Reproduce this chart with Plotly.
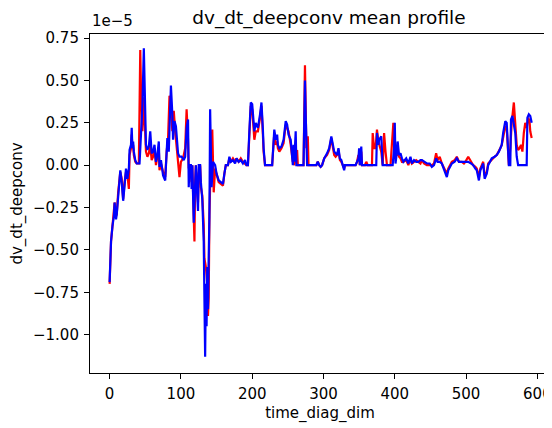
import plotly.graph_objects as go

# values in units of 1e-5
blue_x = [0, 2, 4, 6, 7, 9, 10, 12, 15, 17, 19, 21, 23, 25, 27, 28, 30, 31, 32, 33, 34, 36, 38, 42, 44, 46, 48, 49, 50, 51,
          53, 55, 57, 59, 61, 63, 65, 67, 69, 70, 72, 75, 78, 80, 81, 83, 84, 86, 88, 89, 91, 93, 96, 98, 101, 104, 106,
          108, 110, 111, 112, 114, 115, 116, 118, 119, 121, 122, 124, 125, 127, 128, 130, 132, 133, 134, 135, 136, 137,
          138, 139, 140, 141, 142, 143, 145, 146, 148, 150, 153, 156, 159, 161, 163, 166, 168, 170, 173, 176, 178, 181,
          184, 187, 190, 192, 194, 196, 198, 200, 202, 203, 205, 208, 211, 213, 215, 216, 218, 228, 231, 233, 235, 236,
          238, 241, 244, 247, 249, 251, 254, 256, 257, 258, 259, 261, 262, 272, 274, 275, 277, 290, 292, 294, 296, 298,
          301, 305, 308, 311, 313, 315, 317, 319, 321, 323, 325, 327, 329, 330, 345, 347, 349, 350, 351, 353, 354, 374,
          375, 377, 378, 381, 383, 397, 399, 400, 401, 403, 404, 406, 408, 410, 412, 416, 419, 422, 424, 427, 430, 433,
          436, 438, 441, 445, 449, 452, 455, 458, 460, 463, 466, 470, 473, 475, 478, 480, 484, 487, 490, 494, 497, 499,
          503, 507, 510, 513, 515, 518, 520, 522, 524, 526, 529, 531, 533, 536, 540, 543, 546, 548, 550, 552, 555, 557,
          559, 560, 562, 563, 565, 567, 569, 571, 573, 585, 586, 588, 590, 592]
blue_y = [-0.69, -0.45, -0.36, -0.30, -0.22, -0.32, -0.29, -0.18, -0.03, -0.10, -0.21, -0.12, -0.02, -0.08, -0.02, 0.09,
          0.12, 0.22, 0.10, 0.14, 0.08, 0.03, 0.01, 0.01, 0.15, 0.35, 0.69, 0.40, 0.25, 0.12,
          0.09, 0.11, 0.20, 0.07, 0.08, 0.12, 0.02, 0.06, 0.14, -0.01, 0.03, -0.06, -0.09, 0.05, 0.16, 0.08, 0.20, 0.47,
          0.30, 0.15, 0.26, 0.23, 0.07, 0.05, 0.05, 0.03, 0.05,
          0.22, 0.27, -0.13, 0.0, 0.0, -0.14, 0.0, -0.34, -0.18, 0.0, -0.10, -0.27, 0.0, 0.0, -0.10, -0.20, -0.45, -0.75,
          -1.13, -0.70, -0.95, -0.60,
          -0.85, -0.54, -0.30, 0.33, -0.05, -0.13, 0.02, 0.01, 0.0, -0.05, -0.09, -0.10, -0.11, -0.05, 0.0, 0.0, 0.05,
          0.02, 0.03, 0.01, 0.04, 0.02,
          0.03, 0.01, 0.03, 0.0, 0.0, 0.20, 0.37, 0.36, 0.25, 0.20, 0.25, 0.22, 0.30, 0.37, 0.21, 0.10, 0.0, 0.0, 0.21,
          0.15, 0.18, 0.12,
          0.10, 0.11, 0.15, 0.26, 0.24, 0.18, 0.15, 0.07, 0.0, 0.12, 0.02, 0.20, 0.0, 0.0, 0.50, 0.30, 0.0, 0.0, 0.02,
          0.0, -0.01, 0.0,
          0.04, 0.07, 0.10, 0.17, 0.12, 0.08, 0.07, 0.06, 0.10, 0.04, 0.03, 0.0, -0.03, 0.0, 0.0, 0.02, 0.04, 0.10, 0.0,
          0.11, 0.0, 0.0,
          0.19, 0.12, 0.15, 0.17, 0.0, 0.0, 0.10, 0.25, 0.01, 0.08, 0.14, 0.06, 0.07, 0.04, 0.02, 0.04, 0.01, 0.05, 0.01,
          0.03, 0.02, 0.02,
          0.03, 0.03, 0.02, 0.01, 0.01, -0.01, 0.0, 0.04, 0.02, 0.02, 0.01, -0.03, -0.07, -0.03, 0.0, 0.01, 0.02, 0.04,
          0.02, 0.02, 0.02, 0.02,
          0.02, 0.01, 0.0, -0.02, -0.03, -0.09, -0.03, -0.01, 0.01, -0.08, -0.05, 0.0, 0.02, 0.04, 0.05, 0.06, 0.08, 0.10,
          0.12, 0.19, 0.26, 0.25,
          0.10, 0.0, 0.0, 0.27, 0.29, 0.25, 0.19, 0.05, 0.0, 0.0, 0.28, 0.30, 0.29, 0.25]

red_x = [0, 2, 4, 6, 7, 9, 10, 12, 15, 17, 19, 21, 23, 25, 27, 28, 30, 31, 32, 33, 34, 36, 38, 41, 42, 43, 44, 46, 48, 49,
         51, 53, 55, 57, 59, 61, 63, 65, 67, 69, 70, 72, 75, 78, 80, 82, 84, 86, 88, 90, 92, 95, 98, 100, 103, 106, 108,
         110, 111, 113, 115, 116, 118, 119, 120, 121, 122, 124, 125, 127, 128, 130, 132, 133, 135, 137, 138, 139, 140,
         142, 144, 145, 146, 148, 150, 153, 156, 159, 161, 163, 166, 168, 170, 173, 176, 178, 181, 184, 187, 190, 192,
         194, 196, 198, 200, 202, 203, 205, 208, 211, 213, 215, 216, 218, 228, 231, 233, 235, 236, 238, 241, 244, 247,
         249, 251, 254, 256, 257, 258, 259, 261, 263, 264, 272, 274, 275, 276, 278, 279, 290, 292, 294, 296, 298, 301,
         305, 308, 311, 313, 315, 317, 319, 321, 323, 325, 327, 329, 330, 345, 347, 349, 350, 351, 353, 354, 358, 360,
         362, 368, 369, 371, 373, 375, 377, 379, 381, 383, 385, 387, 389, 394, 397, 398, 400, 401, 403, 404, 406, 408,
         410, 412, 416, 419, 422, 424, 427, 430, 433, 436, 438, 441, 445, 449, 452, 455, 458, 460, 463, 466, 470, 473,
         475, 478, 480, 484, 487, 490, 494, 497, 499, 503, 507, 510, 513, 515, 518, 520, 522, 524, 526, 529, 531, 533,
         536, 540, 543, 546, 548, 550, 552, 555, 557, 559, 560, 562, 564, 567, 569, 571, 573, 575, 577, 579, 581, 583,
         585, 587, 589, 590, 592]
red_y = [-0.70, -0.45, -0.36, -0.28, -0.22, -0.30, -0.29, -0.16, -0.04, -0.08, -0.20, -0.10, -0.04, -0.06, -0.14, 0.06,
         0.10, 0.18, 0.10, 0.12, 0.06, 0.02, 0.01, 0.01, 0.30, 0.68, 0.45, 0.20, 0.40, 0.25,
         0.08, 0.05, 0.07, 0.12, 0.03, 0.05, 0.10, 0.0, 0.04, 0.10, -0.03, 0.01, -0.04, -0.07, 0.08, 0.16, 0.41, 0.35,
         0.20, 0.32, 0.20, 0.05, -0.07, 0.02, 0.04, 0.10, 0.33,
         0.15, -0.02, 0.0, -0.10, 0.0, -0.25, -0.45, -0.10, 0.0, -0.08, -0.22, -0.05, 0.0, -0.13, -0.18, -0.35, -0.55,
         -0.60, -0.70, -0.89, -0.78, -0.30,
         0.05, 0.21, 0.05, -0.16, -0.02, -0.05, -0.10, -0.11, -0.12, -0.05, 0.0, 0.0, 0.04, 0.02, 0.04, 0.02, 0.04, 0.02,
         0.04, 0.02, 0.01, 0.0,
         0.0, 0.18, 0.35, 0.33, 0.22, 0.15, 0.20, 0.20, 0.28, 0.35, 0.18, 0.08, 0.0, 0.0, 0.19, 0.12, 0.14, 0.10, 0.08,
         0.10, 0.13, 0.24,
         0.22, 0.20, 0.12, 0.05, 0.02, 0.10, 0.0, 0.04, 0.09, 0.0, 0.0, 0.59, 0.40, 0.10, 0.17, 0.0, 0.0, 0.02, 0.0,
         -0.01, 0.0, 0.04,
         0.06, 0.09, 0.16, 0.10, 0.06, 0.05, 0.06, 0.09, 0.03, 0.02, 0.0, -0.02, 0.0, 0.0, 0.02, 0.06, 0.05, 0.0, 0.08,
         0.0, 0.0, 0.02,
         0.0, 0.0, 0.19, 0.10, 0.10, 0.21, 0.14, 0.10, 0.08, 0.0, 0.19, 0.08, 0.0, 0.0, 0.20, 0.25, 0.05, 0.06, 0.06,
         0.08, 0.05, 0.04,
         0.02, 0.02, 0.03, 0.0, 0.04, 0.01, 0.02, 0.03, 0.02, 0.01, 0.03, 0.01, 0.0, 0.0, 0.0, 0.01, 0.07, 0.03, 0.05,
         0.01, -0.02, -0.05,
         -0.02, 0.0, 0.02, 0.03, 0.05, 0.02, 0.02, 0.01, 0.02, 0.05, 0.02, 0.0, -0.01, -0.02, -0.07, -0.02, 0.0, 0.02,
         -0.06, -0.04, 0.01, 0.02,
         0.03, 0.05, 0.06, 0.08, 0.10, 0.12, 0.17, 0.23, 0.22, 0.08, 0.0, 0.10, 0.25, 0.37, 0.20, 0.12, 0.09, 0.10,
         0.12, 0.08, 0.19, 0.25,
         0.22, 0.28, 0.26, 0.20, 0.16]

x_ticks = [0, 100, 200, 300, 400, 500, 600]
y_ticks = [-1.00, -0.75, -0.50, -0.25, 0.00, 0.25, 0.50, 0.75]

FONT = "DejaVu Sans"
TICK_SIZE = 15
TITLE_SIZE = 18.5

fig = go.Figure()
fig.add_trace(go.Scatter(x=red_x, y=red_y, mode="lines", line=dict(color="#ff0000", width=2.2), showlegend=False))
fig.add_trace(go.Scatter(x=blue_x, y=blue_y, mode="lines", line=dict(color="#0000ff", width=2.2), showlegend=False))

axis_common = dict(showgrid=False, zeroline=False, showline=True, linecolor="black", linewidth=1.1,
                   ticks="outside", ticklen=5, tickwidth=1.1, tickcolor="black", ticklabelstandoff=2,
                   ticklabeloverflow="allow",
                   tickfont=dict(family=FONT, size=TICK_SIZE, color="black"))

# page body has an 8px margin, so the figure is sized to end at the window edge
fig.update_layout(
    width=544, height=420,
    margin=dict(l=82, r=0, t=26, b=55),
    plot_bgcolor="white", paper_bgcolor="white",
    font=dict(family=FONT, color="black"),
    title=dict(text="dv_dt_deepconv mean profile", x=0.590, xanchor="center", xref="container",
               y=1 - 10 / 420, yanchor="middle", yref="container",
               font=dict(family=FONT, size=TITLE_SIZE, color="black")),
    xaxis=dict(range=[-27.5, 617.7], tickvals=x_ticks, mirror=True,
               title=dict(text="time_diag_dim", font=dict(family=FONT, size=TICK_SIZE, color="black"), standoff=5),
               **axis_common),
    yaxis=dict(range=[-1.226, 0.774], tickvals=y_ticks, tickformat=".2f",
               title=dict(text="dv_dt_deepconv", font=dict(family=FONT, size=TICK_SIZE, color="black"), standoff=6),
               **axis_common),
    annotations=[dict(text="1e\u22125", xref="paper", yref="paper", x=0, y=1, xanchor="left", yanchor="bottom",
                      showarrow=False, yshift=2, font=dict(family=FONT, size=TICK_SIZE, color="black"))],
)

fig.write_html("out.html")
